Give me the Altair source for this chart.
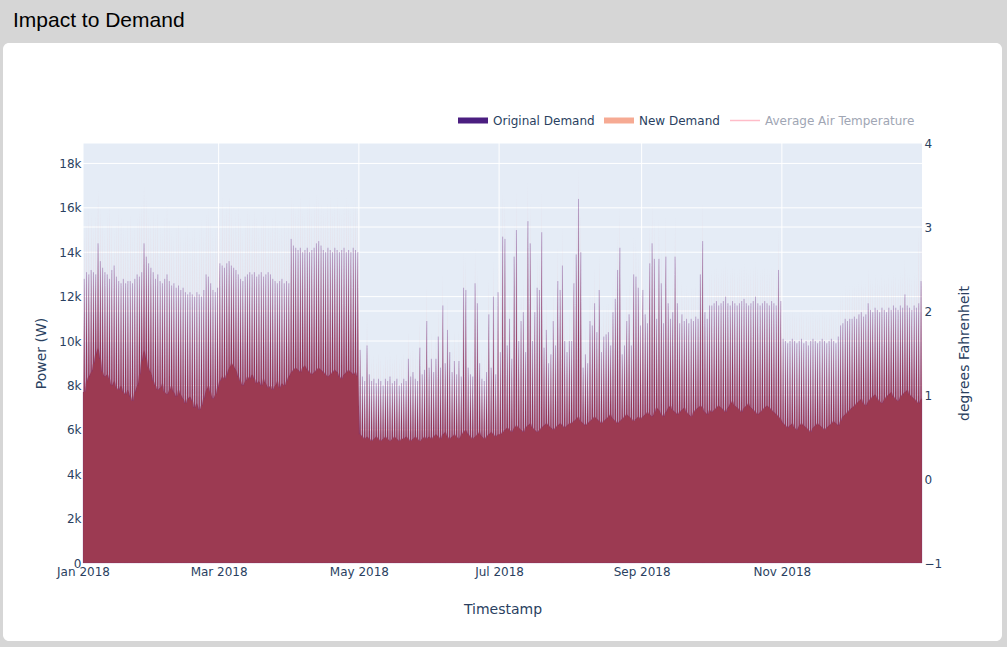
import altair as alt
import pandas as pd

# ---------------- data (daily values, in hundreds of W) ----------------
# Original demand: daily peak
ORIG_PEAK = (
    [128,131,130,132,131,130,144,136,133,131,130,128,132,134,129,127,126,128,126,127,127,126,128,130,129,131,144,138,135,133,131]  # Jan
    + [128,130,127,126,128,130,127,125,126,124,125,123,124,122,121,122,121,120,122,121,120,123,130,129,126,123,122,124]  # Feb
    + [135,134,133,135,136,134,133,132,130,128,127,129,130,131,130,131,129,130,131,129,130,131,130,128,127,126,127,128,126,127,126]  # Mar
    + [146,143,142,141,142,140,141,142,140,141,142,144,145,143,141,140,142,141,140,142,141,140,141,142,140,141,140,142,141,140]  # Apr
    + [96,84,82,98,85,82,83,81,83,82,80,83,82,84,81,82,83,80,81,83,82,92,84,86,83,82,97,85,87,109,88]  # May
    + [92,86,92,102,88,116,90,105,95,86,91,85,91,84,124,123,88,85,84,126,117,90,83,82,86,112,88,120,85,122]  # Jun
    + [95,147,146,98,110,92,138,150,100,109,113,95,154,144,100,113,124,123,149,97,105,90,94,109,98,127,123,134,100,95,100]  # Jul
    + [100,126,139,164,140,88,94,90,109,107,117,104,123,95,102,103,104,98,113,119,132,142,94,98,109,112,98,130,129,124,107]  # Aug
    + [123,112,108,135,144,137,110,137,126,108,138,117,110,113,138,117,108,112,109,110,108,110,109,111,110,130,145,113,110,116]  # Sep
    + [116,117,118,116,117,118,120,117,116,118,117,116,117,118,119,117,116,117,118,120,117,116,117,118,117,116,118,117,116,132,118]  # Oct
    + [101,100,99,100,101,100,99,100,101,99,100,98,100,101,100,99,100,101,100,99,100,101,100,99,102,107,108,110,109,110]  # Nov
    + [110,111,110,112,113,111,112,117,114,113,115,114,113,115,114,113,115,114,116,115,114,116,115,121,116,115,114,116,115,117,127]  # Dec
)
# Daily low (shared by both demand series)
DAILY_LOW = (
    [77,82,84,86,90,94,97,92,86,84,85,83,80,82,79,78,80,77,76,78,75,73,77,80,85,91,96,92,88,86,82]
    + [80,78,79,81,77,76,78,80,77,75,78,76,74,72,74,75,73,70,72,69,71,74,78,80,77,74,76,79]
    + [82,84,83,85,88,90,89,87,84,82,80,82,84,83,85,83,81,82,80,83,81,79,80,78,80,82,79,81,80,82,84]
    + [86,87,88,87,86,88,89,87,86,85,86,87,88,87,86,85,84,85,86,87,86,84,83,85,86,87,86,85,86,84]
    + [58,57,56,57,56,55,56,57,56,55,56,57,56,55,56,57,56,55,56,56,57,56,55,56,57,56,55,56,57,56,57]
    + [56,57,58,57,56,58,59,57,56,57,58,57,56,58,59,60,58,57,56,57,58,59,57,56,57,58,59,58,57,58]
    + [58,59,60,61,60,59,61,62,61,60,59,61,62,63,61,60,59,60,61,62,63,62,61,60,61,62,63,62,61,62,63]
    + [63,64,65,66,64,63,62,63,64,65,66,65,64,63,64,65,66,67,65,64,63,64,65,66,67,66,65,64,65,66,65]
    + [66,67,68,67,66,68,70,69,67,66,68,70,71,69,68,67,68,69,70,68,67,66,68,69,70,71,70,68,67,69]
    + [68,69,70,71,70,69,68,70,72,73,71,70,69,68,70,71,72,70,69,68,67,68,69,70,71,70,69,68,67,66,65]
    + [63,62,61,62,63,61,60,62,63,62,61,60,59,61,62,63,62,61,60,61,62,63,64,63,62,64,66,67,68,69]
    + [70,71,72,73,74,72,71,73,74,75,76,74,73,72,74,75,76,77,75,74,73,75,76,77,78,76,75,74,73,72,74]
)
# New demand: daily peak
NEW_PEAK = (
    [150,155,160,158,152,157,168,160,155,150,158,162,156,150,154,160,157,152,150,155,158,150,153,157,160,162,170,165,158,155,160]
    + [155,160,152,150,157,162,155,150,148,152,156,150,147,150,153,148,150,152,147,150,155,150,158,160,155,150,152,157]
    + [160,165,158,162,166,160,155,158,162,157,150,155,160,158,155,160,157,152,156,160,158,155,152,157,160,155,150,153,156,152,155]
    + [165,163,160,162,166,160,158,162,165,160,163,167,165,162,160,158,163,165,160,162,165,160,158,162,165,163,160,162,165,160]
    + [100,95,92,110,95,92,94,92,95,93,90,94,93,95,92,93,95,92,93,95,93,105,96,98,95,93,110,97,99,125,100]
    + [105,98,104,115,100,130,102,120,108,98,105,97,105,96,140,138,100,97,96,142,132,102,95,94,98,128,100,136,97,138]
    + [108,168,165,112,125,105,155,168,114,124,128,108,172,162,114,128,140,139,167,110,120,103,107,124,112,143,139,151,114,108,114]
    + [114,142,157,178,158,100,107,103,124,122,133,118,139,108,116,117,118,111,128,135,149,160,107,111,124,127,111,147,146,140,122]
    + [139,127,123,153,162,155,125,155,143,123,156,133,125,128,156,133,123,127,124,125,123,125,124,126,125,147,163,128,125,131]
    + [132,133,134,132,133,134,136,133,132,134,133,132,133,134,135,133,132,133,134,136,133,132,133,134,133,132,134,133,132,150,134]
    + [115,114,113,114,115,114,113,114,115,113,114,112,114,115,114,113,114,115,114,113,114,115,114,113,116,122,123,125,124,125]
    + [125,126,125,127,128,126,127,133,129,128,130,129,128,130,129,128,130,129,131,130,129,131,130,137,131,130,129,131,130,150,160]
)

LEFT_TICKS = [0, 2000, 4000, 6000, 8000, 10000, 12000, 14000, 16000, 18000]
RIGHT_TICKS = [-1, 0, 1, 2, 3, 4]
X_TICKS = ["2018-01-01T00:00:00", "2018-03-01T00:00:00", "2018-05-01T00:00:00",
           "2018-07-01T00:00:00", "2018-09-01T00:00:00", "2018-11-01T00:00:00"]

for name, arr in (("ORIG_PEAK", ORIG_PEAK), ("DAILY_LOW", DAILY_LOW), ("NEW_PEAK", NEW_PEAK)):
    if len(arr) != 365:
        raise ValueError(f"{name} has {len(arr)} values")

# each day: morning low, midday peak, evening low
days = pd.date_range("2018-01-01", periods=365, freq="D")
rows = [{"t": "2018-01-01T00:00:00", "orig": DAILY_LOW[0] * 100, "new": DAILY_LOW[0] * 100}]
for d, lo, pk, npk in zip(days, DAILY_LOW, ORIG_PEAK, NEW_PEAK):
    rows.append({"t": d.strftime("%Y-%m-%dT05:00:00"), "orig": lo * 100, "new": lo * 100})
    rows.append({"t": d.strftime("%Y-%m-%dT13:00:00"), "orig": pk * 100, "new": npk * 100})
    rows.append({"t": d.strftime("%Y-%m-%dT21:00:00"), "orig": lo * 100, "new": lo * 100})
rows.append({"t": "2018-12-31T23:00:00", "orig": DAILY_LOW[-1] * 100, "new": DAILY_LOW[-1] * 100})
df = pd.DataFrame(rows)

# ---------------- styling ----------------
FONT = "DejaVu Sans"
TXT = "#2a3f5f"
W, H = 839, 420
L, T = 83, 143

x_scale = alt.Scale(domain=[alt.DateTime(year=2018, month=1, date=1),
                            alt.DateTime(year=2018, month=12, date=31, hours=23)], nice=False)
x_axis = alt.Axis(values=[alt.DateTime(year=2018, month=m, date=1) for m in (1, 3, 5, 7, 9, 11)],
                  format="%b %Y", grid=False, domain=False, ticks=False, tickSize=0, zindex=2,
                  labelFlush=False, labelOverlap=False,
                  labelFont=FONT, labelFontSize=12, labelColor=TXT, labelPadding=3,
                  title="Timestamp", titleFont=FONT, titleFontSize=14, titleColor=TXT,
                  titleFontWeight="normal", titleY=46, titleBaseline="middle")
left_scale = alt.Scale(domain=[0, 18920], nice=False, zero=False)
left_axis = alt.Axis(orient="left", values=LEFT_TICKS,
                     labelExpr="datum.value == 0 ? '0' : format(datum.value / 1000, 'd') + 'k'",
                     grid=False, domain=False, labelOverlap=False,
                     ticks=False, tickSize=0, zindex=2, labelFont=FONT, labelFontSize=12, labelColor=TXT,
                     labelPadding=2, title="Power (W)", titleFont=FONT, titleFontSize=14,
                     titleColor=TXT, titleFontWeight="normal", titleX=-42, titleBaseline="middle")
right_scale = alt.Scale(domain=[-1, 4], nice=False, zero=False)
right_axis = alt.Axis(orient="right", values=RIGHT_TICKS, format="d", grid=False, domain=False,
                      labelOverlap=False,
                      ticks=False, tickSize=0, zindex=2, labelFont=FONT, labelFontSize=12, labelColor=TXT,
                      labelPadding=2, title="degrees Fahrenheit", titleFont=FONT, titleFontSize=14,
                      titleColor=TXT, titleFontWeight="normal", titleAngle=270, titleX=42,
                      titleBaseline="middle")

one = alt.Data(values=[{}])

card = alt.Chart(one).mark_rect(color="white", cornerRadius=6).encode(
    x=alt.value(-80), x2=alt.value(919), y=alt.value(-100), y2=alt.value(498))
plot_bg = alt.Chart(one).mark_rect(color="#e5ecf6").encode(
    x=alt.value(0), x2=alt.value(W), y=alt.value(0), y2=alt.value(H))
vgrid = alt.Chart(pd.DataFrame({"t": X_TICKS})).mark_rule(color="white", strokeWidth=1).encode(
    x=alt.X("t:T", scale=x_scale, axis=x_axis))
rgrid = alt.Chart(pd.DataFrame({"v": RIGHT_TICKS})).mark_rule(color="white", strokeWidth=1).encode(
    y=alt.Y("v:Q", scale=right_scale, axis=right_axis))

lgrid = alt.Chart(pd.DataFrame({"orig": LEFT_TICKS})).mark_rule(color="white", strokeWidth=1).encode(
    y=alt.Y("orig:Q", scale=left_scale, axis=left_axis))

new_area = alt.Chart(df).mark_area(color="#f0a2ac", opacity=0.25, interpolate="linear").encode(
    x=alt.X("t:T", scale=x_scale, axis=x_axis),
    y=alt.Y("new:Q", scale=left_scale, axis=left_axis))
orig_area = alt.Chart(df).mark_area(color="#9c3a52", opacity=1, interpolate="linear",
                                    stroke="#6a2c88", strokeWidth=0.4, strokeOpacity=0.5).encode(
    x=alt.X("t:T", scale=x_scale, axis=x_axis),
    y=alt.Y("orig:Q", scale=left_scale, axis=left_axis))

title = alt.Chart(one).mark_text(align="left", baseline="alphabetic", font="Liberation Sans",
                                 fontSize=21, color="#000000").encode(
    x=alt.value(13 - L), y=alt.value(26.7 - T), text=alt.value("Impact to Demand"))

leg_y = 120.5 - T
sw1 = alt.Chart(one).mark_rect(color="#4b1e80").encode(
    x=alt.value(458 - L), x2=alt.value(488 - L), y=alt.value(117.5 - T), y2=alt.value(123.5 - T))
sw2 = alt.Chart(one).mark_rect(color="#f6aa93").encode(
    x=alt.value(604 - L), x2=alt.value(634 - L), y=alt.value(117.5 - T), y2=alt.value(123.5 - T))
sw3 = alt.Chart(one).mark_rule(color="#ffbcc8", strokeWidth=1.5).encode(
    x=alt.value(730 - L), x2=alt.value(760 - L), y=alt.value(leg_y))
lt1 = alt.Chart(one).mark_text(align="left", baseline="middle", font=FONT, fontSize=12, color=TXT).encode(
    x=alt.value(493 - L), y=alt.value(leg_y), text=alt.value("Original Demand"))
lt2 = alt.Chart(one).mark_text(align="left", baseline="middle", font=FONT, fontSize=12, color=TXT).encode(
    x=alt.value(639 - L), y=alt.value(leg_y), text=alt.value("New Demand"))
lt3 = alt.Chart(one).mark_text(align="left", baseline="middle", font=FONT, fontSize=12, color="#a0a6b4").encode(
    x=alt.value(765 - L), y=alt.value(leg_y), text=alt.value("Average Air Temperature"))

back = alt.layer(card, plot_bg, vgrid, rgrid)
front = alt.layer(lgrid, new_area, orig_area, title, sw1, sw2, sw3, lt1, lt2, lt3)

chart = alt.layer(back, front).resolve_scale(y="independent").properties(
    width=W, height=H,
    padding={"left": L, "top": T, "right": 1007 - L - W, "bottom": 647 - T - H},
    autosize=alt.AutoSizeParams(type="none"),
    background="#d6d6d6",
).configure_view(strokeWidth=0)

chart.save("out.html", embed_options={"renderer": "svg", "actions": False})
